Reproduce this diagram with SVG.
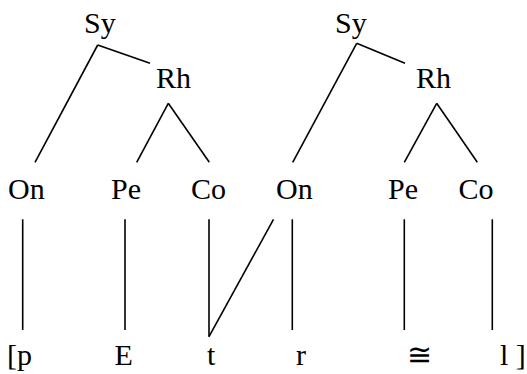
<svg xmlns="http://www.w3.org/2000/svg" width="527" height="374" viewBox="0 0 527 374">
<style>
text{font-family:'Liberation Serif','Times New Roman',serif;font-size:30px;fill:#000}
line{stroke:#000;stroke-width:1.6;stroke-linecap:butt}
</style>
<rect width="527" height="374" fill="#fff"/>
<g id="connectors">
<line x1="97.7" y1="45" x2="150" y2="63.3"/>
<line x1="97.7" y1="45" x2="35" y2="162.3"/>
<line x1="168.3" y1="103.3" x2="136.7" y2="162.3"/>
<line x1="168.3" y1="103.3" x2="209.3" y2="162.3"/>
<line x1="356.7" y1="43.3" x2="405" y2="63.3"/>
<line x1="356.7" y1="43.3" x2="292.7" y2="162.3"/>
<line x1="436.7" y1="103.3" x2="404.3" y2="162.3"/>
<line x1="436.7" y1="103.3" x2="477.3" y2="162.3"/>
<line x1="22.7" y1="219.3" x2="22.7" y2="330"/>
<line x1="125" y1="219.3" x2="125" y2="330"/>
<line x1="209" y1="219.3" x2="209" y2="336.7"/>
<line x1="209" y1="336.7" x2="273.5" y2="219.3"/>
<line x1="292.3" y1="219.3" x2="292.3" y2="330"/>
<line x1="404.3" y1="219.3" x2="404.3" y2="330"/>
<line x1="492.3" y1="219.3" x2="492.3" y2="330"/>
</g>
<g id="sy1"><text x="84" y="33" font-family="Liberation Serif">Sy</text></g>
<g id="rh1"><text x="156" y="88" font-family="Liberation Serif">Rh</text></g>
<g id="on1"><text x="8" y="199" font-family="Liberation Serif">On</text></g>
<g id="pe1"><text x="111" y="199" font-family="Liberation Serif">Pe</text></g>
<g id="co1"><text x="191" y="199" font-family="Liberation Serif">Co</text></g>
<g id="sy2"><text x="335" y="33" font-family="Liberation Serif">Sy</text></g>
<g id="rh2"><text x="416" y="88" font-family="Liberation Serif">Rh</text></g>
<g id="on2"><text x="276" y="199" font-family="Liberation Serif">On</text></g>
<g id="pe2"><text x="388" y="199" font-family="Liberation Serif">Pe</text></g>
<g id="co2"><text x="458.5" y="199" font-family="Liberation Serif">Co</text></g>
<g id="seg-p"><text x="7" y="365" font-family="Liberation Serif">[p</text></g>
<g id="seg-E"><text x="114.5" y="365" font-family="Liberation Serif">E</text></g>
<g id="seg-t"><text x="207" y="365" font-family="Liberation Serif">t</text></g>
<g id="seg-r"><text x="296" y="365" font-family="Liberation Serif">r</text></g>
<g id="seg-cong"><text x="407" y="365" font-family="Liberation Serif">≅</text></g>
<g id="seg-l"><text x="500" y="365" font-family="Liberation Serif">l ]</text></g>
</svg>
